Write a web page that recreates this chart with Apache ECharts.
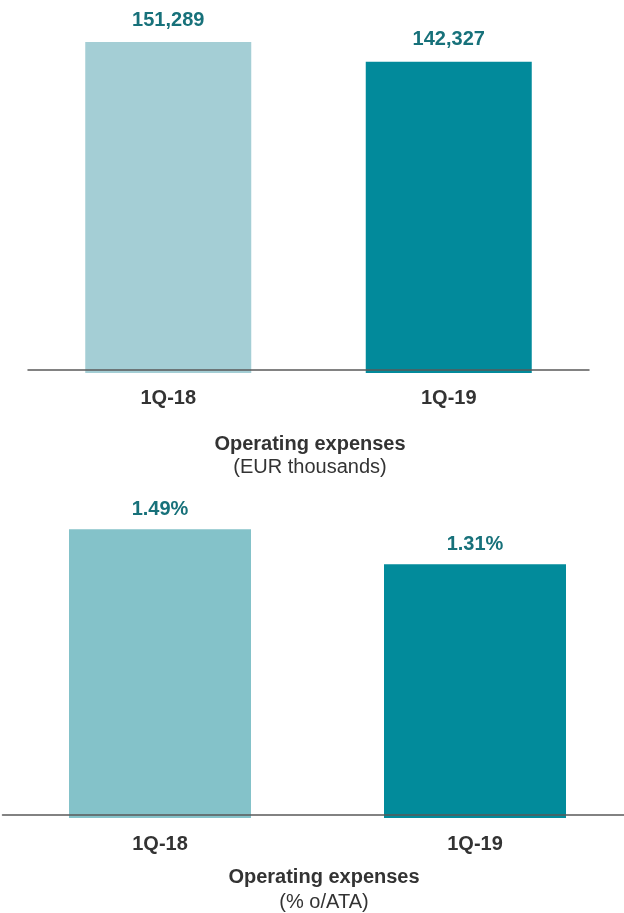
<!DOCTYPE html>
<html>
<head>
<meta charset="utf-8">
<script src="https://cdn.jsdelivr.net/npm/echarts@6/dist/echarts.min.js"></script>
<style>
  html, body { margin: 0; padding: 0; background: #ffffff; }
  #chart { width: 624px; height: 913px; }
</style>
</head>
<body>
<div id="chart"></div>
<script>
// Quarterly operating expenses: absolute amount and ratio over average total assets
const categories = ['1Q-18', '1Q-19'];
const expensesEur = [151289, 142327];   // EUR thousands
const expensesPct = [1.49, 1.31];       // % o/ATA

const FONT = '"Liberation Sans", Arial, sans-serif';
const topColors = ['#a4ced5', '#028a9b'];
const bottomColors = ['#84c2c9', '#028b9b'];
const labelColor = '#17717a';
const textColor = '#333333';

function colored(values, colors) {
  return values.map((v, i) => ({ value: v, itemStyle: { color: colors[i] } }));
}

function xAxisFor(gridIndex, margin) {
  return {
    type: 'category',
    gridIndex: gridIndex,
    data: categories,
    offset: -3,
    z: 5,
    axisLine: { show: true, lineStyle: { color: '#5a5a5a', width: 1.5 } },
    axisTick: { show: false },
    axisLabel: {
      margin: margin,
      fontFamily: FONT,
      fontSize: 20,
      fontWeight: 'bold',
      color: textColor
    }
  };
}

function yAxisFor(gridIndex, max) {
  return {
    type: 'value',
    gridIndex: gridIndex,
    min: 0,
    max: max,
    show: false,
    splitLine: { show: false }
  };
}

const chart = echarts.init(document.getElementById('chart'), null, { renderer: 'canvas' });

chart.setOption({
  animation: false,
  backgroundColor: '#ffffff',
  grid: [
    { left: 28, width: 561, top: 23, bottom: 540, outerBoundsMode: 'none' },
    { left: 2.5, width: 630, top: 508, bottom: 95, outerBoundsMode: 'none' }
  ],
  xAxis: [xAxisFor(0, 18), xAxisFor(1, 19)],
  yAxis: [yAxisFor(0, 160000), yAxisFor(1, 1.6)],
  series: [
    {
      type: 'bar',
      xAxisIndex: 0,
      yAxisIndex: 0,
      barWidth: 166,
      data: colored(expensesEur, topColors),
      label: {
        show: true,
        position: 'top',
        distance: 12,
        fontFamily: FONT,
        fontSize: 20,
        fontWeight: 'bold',
        color: labelColor,
        formatter: p => p.value.toLocaleString('en-US')
      }
    },
    {
      type: 'bar',
      xAxisIndex: 1,
      yAxisIndex: 1,
      barWidth: 182,
      data: colored(expensesPct, bottomColors),
      label: {
        show: true,
        position: 'top',
        distance: 10,
        fontFamily: FONT,
        fontSize: 20,
        fontWeight: 'bold',
        color: labelColor,
        formatter: p => p.value.toFixed(2) + '%'
      }
    }
  ],
  graphic: [
    {
      type: 'text', x: 310, y: 444,
      style: { text: 'Operating expenses', fontFamily: FONT, fontSize: 20, fontWeight: 'bold',
               fill: textColor, textAlign: 'center', textVerticalAlign: 'middle' }
    },
    {
      type: 'text', x: 310, y: 467,
      style: { text: '(EUR thousands)', fontFamily: FONT, fontSize: 20,
               fill: textColor, textAlign: 'center', textVerticalAlign: 'middle' }
    },
    {
      type: 'text', x: 324, y: 877,
      style: { text: 'Operating expenses', fontFamily: FONT, fontSize: 20, fontWeight: 'bold',
               fill: textColor, textAlign: 'center', textVerticalAlign: 'middle' }
    },
    {
      type: 'text', x: 324, y: 902,
      style: { text: '(% o/ATA)', fontFamily: FONT, fontSize: 20,
               fill: textColor, textAlign: 'center', textVerticalAlign: 'middle' }
    }
  ]
});
</script>
</body>
</html>
